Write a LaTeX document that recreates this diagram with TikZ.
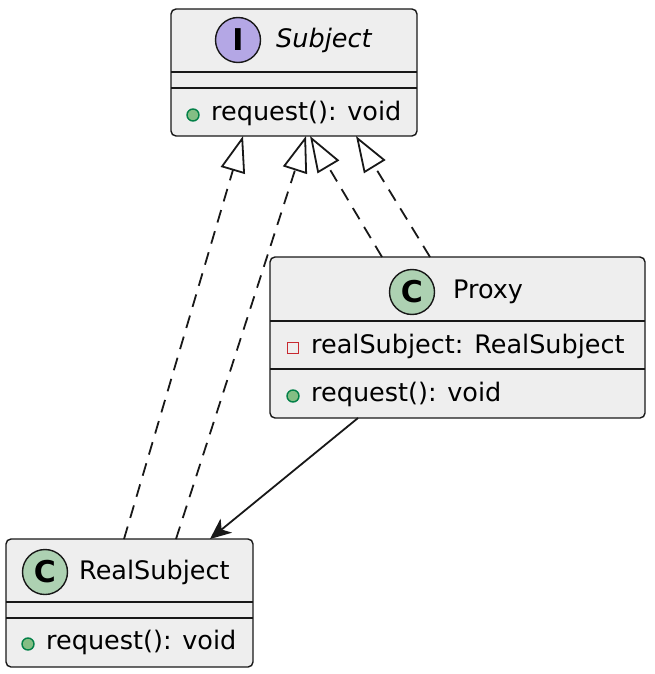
\documentclass[tikz,border=0pt]{standalone}
\usepackage{fontspec}
\setmainfont{DejaVu Sans}
\usetikzlibrary{arrows.meta}

\definecolor{boxfill}{HTML}{EEEEEE}
\definecolor{boxline}{HTML}{181818}
\definecolor{ifacefill}{HTML}{B4A7E5}
\definecolor{classfill}{HTML}{ADD1B2}
\definecolor{pubfill}{HTML}{84BE84}
\definecolor{publine}{HTML}{038048}
\definecolor{privline}{HTML}{C82930}

\begin{document}
\begin{tikzpicture}[
		x=1pt, y=-1pt,
		every node/.style={font=\fontsize{25.5}{28}\selectfont, inner sep=0pt},
		classbox/.style={rectangle, rounded corners=5pt, draw=boxline, fill=boxfill, line width=1.4pt},
		sep/.style={draw=boxline, line width=1.4pt},
		icon/.style={circle, draw=boxline, line width=1.4pt, minimum size=45pt, font=\fontsize{30}{30}\selectfont\bfseries},
		pub/.style={circle, draw=publine, fill=pubfill, line width=1.4pt, minimum size=12pt},
		priv/.style={rectangle, draw=privline, line width=1.4pt, minimum size=11pt},
		member/.style={anchor=west},
		realize/.style={-{Triangle[open, length=36pt, width=25pt, line width=1.8pt]}, line width=1.8pt, dash pattern=on 13pt off 9pt, draw=boxline},
		assoc/.style={-{Stealth[length=21pt, width=18pt, inset=6pt]}, line width=1.8pt, draw=boxline}
		]
		\useasboundingbox (0,0) rectangle (654,674);
		
		% -------- Subject --------
		\node[classbox, minimum width=246pt, minimum height=127pt] (subj) at (294,72.5) {};
		\node[icon, fill=ifacefill] (subjicon) at (238,40) {I};
		\node[anchor=west] (subjname) at (276,40) {\itshape Subject};
		\draw[sep] (171,72) -- (417,72);
		\draw[sep] (171,88) -- (417,88);
		\node[pub] (subjvis) at (193,115) {};
		\node[member] (subjop) at (211,113) {request(): void};
		
		% -------- Proxy --------
		\node[classbox, minimum width=375pt, minimum height=161pt] (proxy) at (457.5,337.5) {};
		\node[icon, fill=classfill] (proxyicon) at (412,292) {C};
		\node[anchor=west] (proxyname) at (453,292) {Proxy};
		\draw[sep] (270,321) -- (645,321);
		\node[priv] (fieldvis) at (293,348) {};
		\node[member] (proxyfield) at (311,346) {realSubject: RealSubject};
		\draw[sep] (270,369) -- (645,369);
		\node[pub] (proxyvis) at (293,396) {};
		\node[member] (proxyop) at (311,394) {request(): void};
		
		% -------- RealSubject --------
		\node[classbox, minimum width=247pt, minimum height=128pt] (real) at (129.5,603) {};
		\node[icon, fill=classfill] (realicon) at (45,572) {C};
		\node[anchor=west] (realname) at (79,572) {RealSubject};
		\draw[sep] (6,602) -- (253,602);
		\draw[sep] (6,618) -- (253,618);
		\node[pub] (realvis) at (28,644) {};
		\node[member] (realop) at (46,642) {request(): void};
		
		% -------- Connector ends --------
		\coordinate (s1) at (243,136);
		\coordinate (s2) at (306,136);
		\coordinate (s3) at (310,136);
		\coordinate (s4) at (356,136);
		\coordinate (r1) at (124,539);
		\coordinate (r2) at (176,539);
		\coordinate (p1) at (382,257);
		\coordinate (p2) at (430,257);
		\coordinate (pb) at (358,418);
		\coordinate (rt) at (210,539);
		
		% ---- Realizations ----
		\draw[realize] (r1) -- (s1);
		\draw[realize] (r2) -- (s2);
		\draw[realize] (p1) -- (s3);
		\draw[realize] (p2) -- (s4);
		
		% ---- Association ----
		\draw[assoc] (pb) -- (rt);
		
	\end{tikzpicture}
\end{document}
